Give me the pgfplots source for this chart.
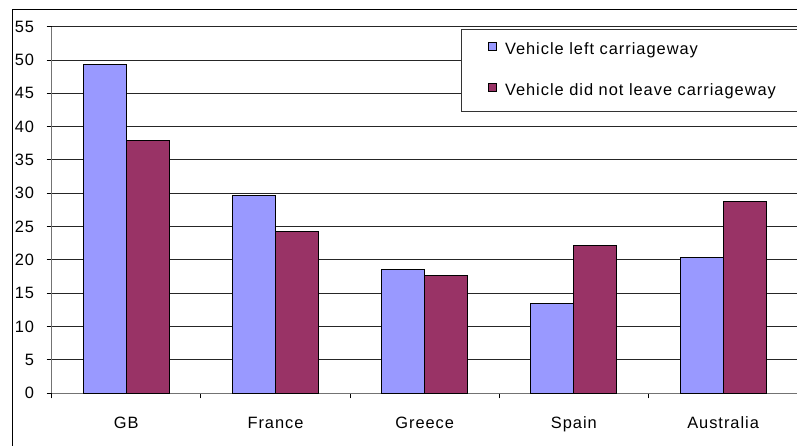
\documentclass[border=0pt]{standalone}
\usepackage{fontspec}
\setmainfont{Liberation Sans}[LetterSpace=6]
\usepackage{pgfplots}
\pgfplotsset{compat=1.18}

\definecolor{barblue}{HTML}{9999FF}
\definecolor{barplum}{HTML}{993366}

% small filled square as legend image
\pgfplotsset{sqlegend/.style={legend image code/.code={%
  \draw[##1,draw=black,line width=0.6pt] (0pt,0.5pt) rectangle (6pt,6.5pt);}}}

\begin{document}
\begin{tikzpicture}
\useasboundingbox (0,0) rectangle (597.75pt,334.5pt);
\fill[white] (0,0) rectangle (597.75pt,334.5pt);
% chart area frame (only left and top visible)
\draw[black,line width=0.75pt] (9pt,0pt) -- (9pt,327.5pt) -- (597.75pt,327.5pt);
\begin{axis}[
  at={(38.78pt,39.53pt)}, anchor=south west,
  scale only axis,
  width=559.5pt, height=274.95pt,
  xmin=-0.5, xmax=4.5, ymin=0, ymax=55,
  ybar=0pt, bar width=32.25pt,
  axis x line*=bottom, axis y line*=left,
  axis line style={-, black!55, line width=0.75pt},
  tick align=outside,
  major tick length=3.75pt, minor tick length=3.75pt,
  every tick/.style={black, line width=0.75pt},
  xtick={0,1,2,3,4},
  xticklabels={GB,France,Greece,Spain,Australia},
  minor xtick={-0.5,0.5,...,4.5},
  major x tick style={draw=none},
  ytick={0,5,...,55},
  ymajorgrids,
  grid style={black!85, line width=0.75pt},
  tick label style={font=\fontsize{12.3}{14}\selectfont},
  xticklabel style={text height=8.5pt, text depth=2pt, yshift=-10.5pt},
  yticklabel style={xshift=-6pt},
  /pgf/number format/assume math mode=true,
  legend cell align=left,
  legend style={at={(0.5487,0.9929)}, anchor=north west,
    draw=black!80, line width=0.75pt,
    font=\fontsize{12.3}{14}\selectfont,
    inner xsep=20pt, inner ysep=9pt,
    /tikz/row sep=18.5pt, /tikz/column sep=6pt,
    nodes={inner sep=0pt, text height=8.5pt, text depth=3pt}},
]
\addplot[fill=barblue, draw=black, line width=0.75pt, sqlegend]
  coordinates {(0,49.3) (1,29.7) (2,18.6) (3,13.5) (4,20.4)};
\addplot[fill=barplum, draw=black, line width=0.75pt, sqlegend]
  coordinates {(0,37.9) (1,24.2) (2,17.7) (3,22.1) (4,28.8)};
\legend{Vehicle left carriageway, Vehicle did not leave carriageway}
\end{axis}
\end{tikzpicture}
\end{document}
